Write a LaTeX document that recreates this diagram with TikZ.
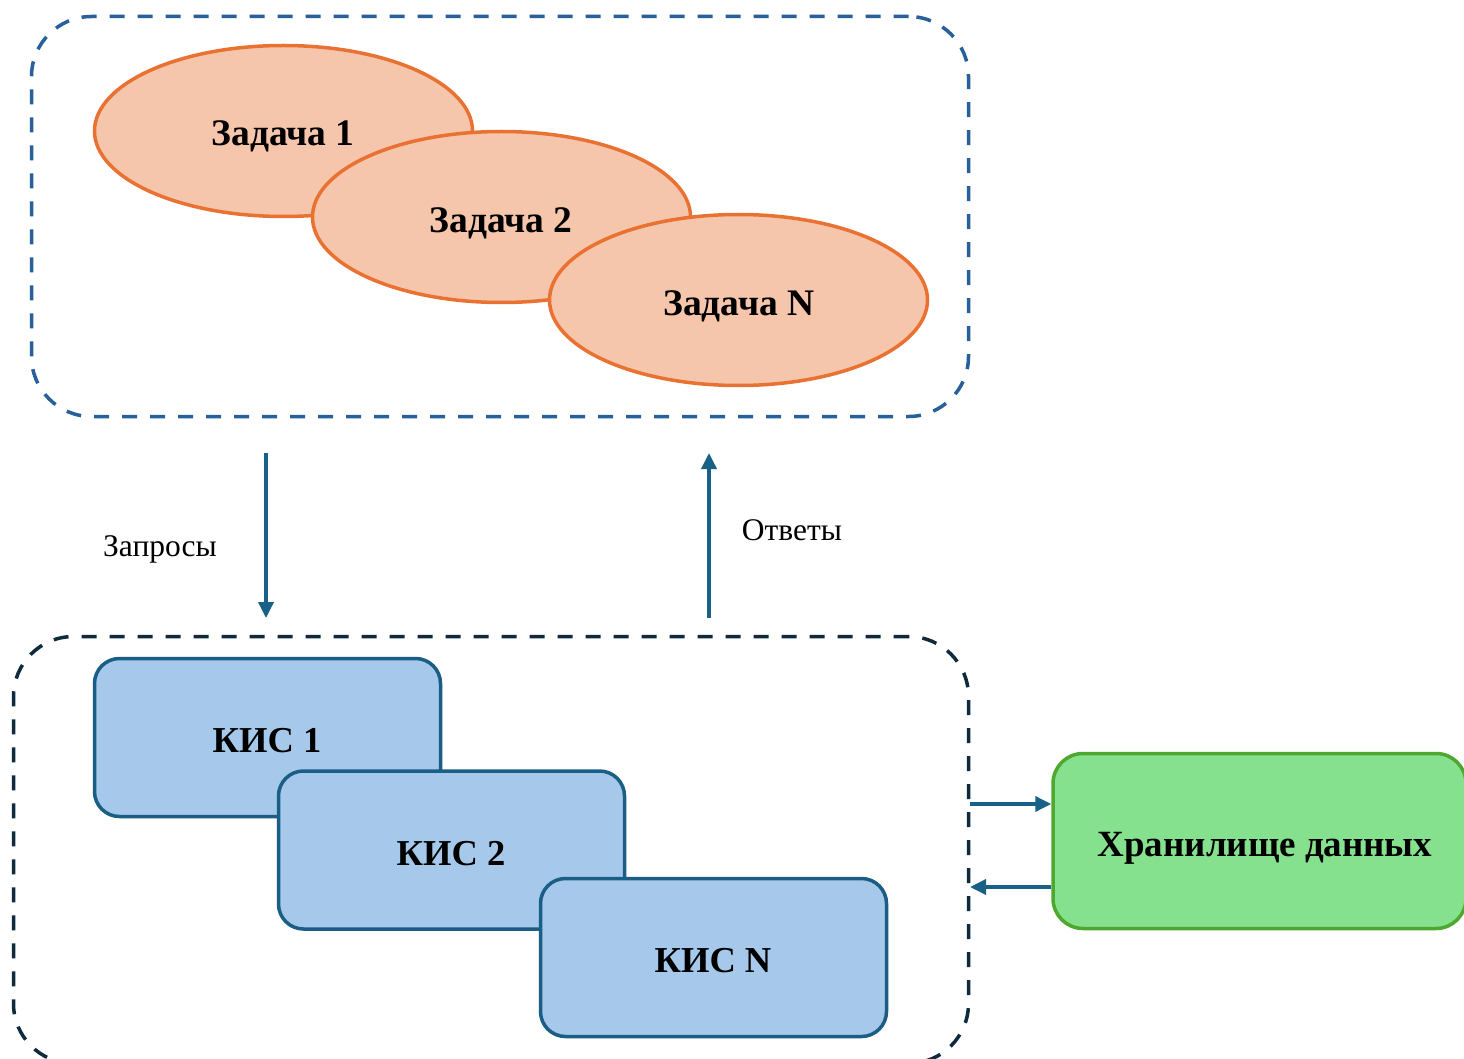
\documentclass[tikz,border=0pt]{standalone}
\usepackage{fontspec}
\setmainfont{Liberation Serif}
\usetikzlibrary{shapes.geometric,arrows.meta}
\definecolor{taskfill}{HTML}{F5C6AB}
\definecolor{taskline}{HTML}{E97132}
\definecolor{kisfill}{HTML}{A6C9EB}
\definecolor{kisline}{HTML}{1A5E85}
\definecolor{dbfill}{HTML}{86E18E}
\definecolor{dbline}{HTML}{4EA72E}
\definecolor{topdash}{HTML}{27609A}
\definecolor{botdash}{HTML}{0E2A3C}
\definecolor{arrcol}{HTML}{1A6188}
\tikzset{
  task/.style={ellipse, draw=taskline, fill=taskfill, line width=3.5pt, minimum width=378pt, minimum height=171pt, inner sep=0pt},
  kis/.style={rectangle, rounded corners=25pt, draw=kisline, fill=kisfill, line width=3.5pt, minimum width=346pt, minimum height=158pt, inner sep=0pt},
  dbbox/.style={rectangle, rounded corners=30pt, draw=dbline, fill=dbfill, line width=3.5pt, minimum width=413pt, minimum height=175pt, inner sep=0pt},
  grp/.style={rectangle, rounded corners=60pt, line width=3.5pt, dash pattern=on 15pt off 13pt, inner sep=0pt},
  arr/.style={draw=arrcol, line width=3.5pt, -{Triangle[length=16pt,width=15pt]}},
  btxt/.style={font=\fontsize{37.5}{42}\selectfont\bfseries, inner sep=0pt, anchor=base},
  lbl/.style={font=\fontsize{31.5}{36}\selectfont, inner sep=0pt, anchor=base}
}
\begin{document}
\begin{tikzpicture}[x=1pt,y=-1pt]
\clip (0,0) rectangle (1464,1059);
\fill[white] (0,0) rectangle (1464,1059);
% top group
\node[grp, draw=topdash, minimum width=937pt, minimum height=400pt] (topgrp) at (500,216.5) {};
\node[task] (t1) at (283.5,131) {};
\node[btxt] (t1x) at (283,146) {Задача 1};
\node[task] (t2) at (501.5,217) {};
\node[btxt] (t2x) at (501,233) {Задача 2};
\node[task] (tn) at (738.5,300) {};
\node[btxt] (tnx) at (739,316) {Задача N};
% bottom group
\node[grp, draw=botdash, minimum width=955pt, minimum height=427pt] (botgrp) at (491,850) {};
\node[kis] (k1) at (267.5,737.5) {};
\node[btxt, font=\fontsize{36.5}{42}\selectfont\bfseries] (k1x) at (267,752) {КИС 1};
\node[kis] (k2) at (451.5,850) {};
\node[btxt, font=\fontsize{36.5}{42}\selectfont\bfseries] (k2x) at (451,865) {КИС 2};
\node[kis] (kn) at (713.5,957.5) {};
\node[btxt, font=\fontsize{36.5}{42}\selectfont\bfseries] (knx) at (713,972) {КИС N};
% storage
\node[dbbox] (db) at (1259.5,841) {};
\node[btxt, font=\fontsize{37}{42}\selectfont\bfseries] (dbtext) at (1265,856) {Хранилище данных};
% vertical arrows
\coordinate (q1) at (266,453);
\coordinate (q2) at (266,618);
\coordinate (a1) at (709,618);
\coordinate (a2) at (709,453);
\draw[arr] (q1) -- (q2);
\draw[arr] (a1) -- (a2);
\node[lbl] (lq) at (160,556) {Запросы};
\node[lbl] (la) at (792,540) {Ответы};
% horizontal arrows
\coordinate (h1) at (970,804);
\coordinate (h2) at (970,887);
\draw[arr] (h1) -- (db.west |- h1);
\draw[arr] (db.west |- h2) -- (h2);
\end{tikzpicture}
\end{document}
